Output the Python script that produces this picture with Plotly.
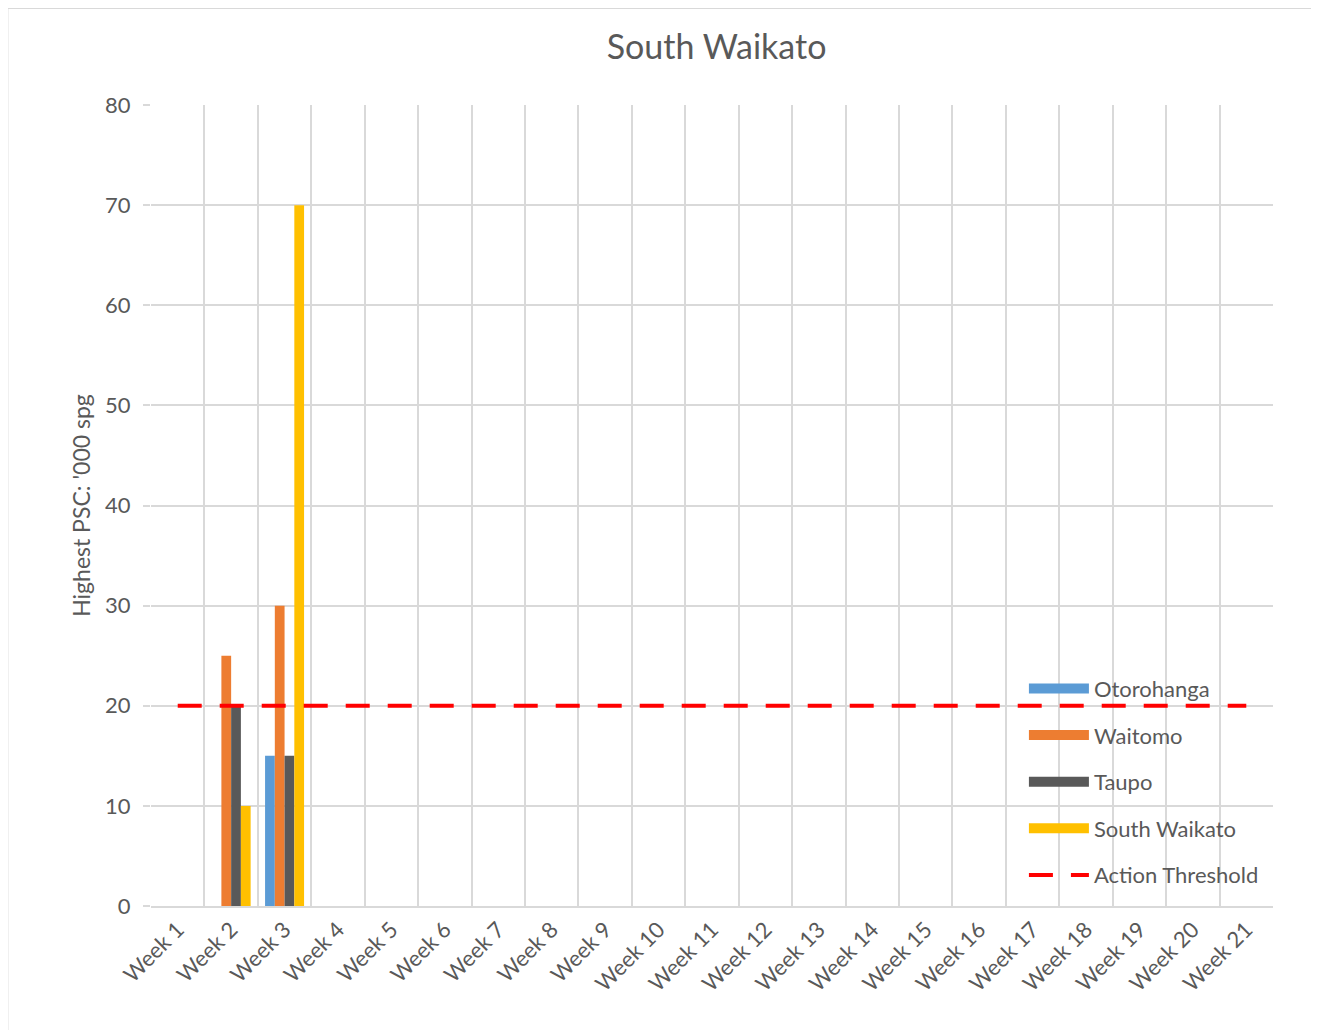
import plotly.graph_objects as go

weeks = [f"Week {i}" for i in range(1, 22)]
week_pos = list(range(1, len(weeks) + 1))

otorohanga = [None, None, 15] + [None] * 18
waitomo = [None, 25, 30] + [None] * 18
taupo = [None, 20, 15] + [None] * 18
south_waikato = [None, 10, 70] + [None] * 18
threshold = [20] * 21

FONT = "Lato"
TXT = "#595959"
GRID = "#d9d9d9"

fig = go.Figure()
series = [
    ("Otorohanga", otorohanga, "#5b9bd5"),
    ("Waitomo", waitomo, "#ed7d31"),
    ("Taupo", taupo, "#595959"),
    ("South Waikato", south_waikato, "#ffc000"),
]
for i, (name, vals, col) in enumerate(series):
    fig.add_trace(go.Bar(x=week_pos, y=vals, name=name, marker=dict(color=col, line=dict(width=0)),
                         showlegend=False))
    # legend proxy to get a wide rectangular swatch
    fig.add_trace(go.Scatter(x=[None], y=[None], name=name, mode="lines",
                             line=dict(color=col, width=14), legendgroup=f"g{i}"))

fig.add_trace(go.Scatter(x=week_pos, y=threshold, name="Action Threshold", mode="lines",
                         line=dict(color="#ff0000", width=4, dash="24px,18px"), legendgroup="g5"))

fig.update_layout(
    width=1311, height=1022,
    paper_bgcolor="white", plot_bgcolor="white",
    margin=dict(l=143, r=46, t=97, b=124),
    barmode="group", bargap=0.27, bargroupgap=0,
    font=dict(family=FONT, color=TXT, size=22),
    title=dict(text="South Waikato", x=0.5405, xanchor="center", y=0.962, yanchor="middle",
               font=dict(size=34, color=TXT, family=FONT)),
    showlegend=True,
    legend=dict(x=0.778, xanchor="left", y=0.2975, yanchor="top", bgcolor="rgba(0,0,0,0)",
                font=dict(size=22, color=TXT, family=FONT), tracegroupgap=15, itemwidth=60),
    xaxis=dict(range=[0.5, 21.5], tickmode="array", tickvals=week_pos, ticktext=weeks,
               tickangle=-45, showgrid=False, zeroline=False,
               showline=True, linecolor=GRID, linewidth=2, ticks="",
               tickfont=dict(size=22, color=TXT),
               minor=dict(tick0=0.5, dtick=1, showgrid=True, gridcolor=GRID, gridwidth=2, ticks="")),
    yaxis=dict(range=[0, 80], dtick=10, showgrid=True, gridcolor=GRID, gridwidth=2,
               zeroline=False, ticks="outside", ticklen=7, tickcolor=GRID, tickwidth=2,
               ticklabelstandoff=8,
               tickfont=dict(size=22, color=TXT),
               title=dict(text="Highest PSC: '000 spg", font=dict(size=23, color=TXT), standoff=8)),
    shapes=[dict(type="rect", xref="paper", yref="paper", x0=-0.128, x1=1.05, y0=-0.2, y1=1.121,
                 line=dict(color=GRID, width=2), fillcolor="rgba(0,0,0,0)", layer="below")],
)

fig.write_html("out.html")
